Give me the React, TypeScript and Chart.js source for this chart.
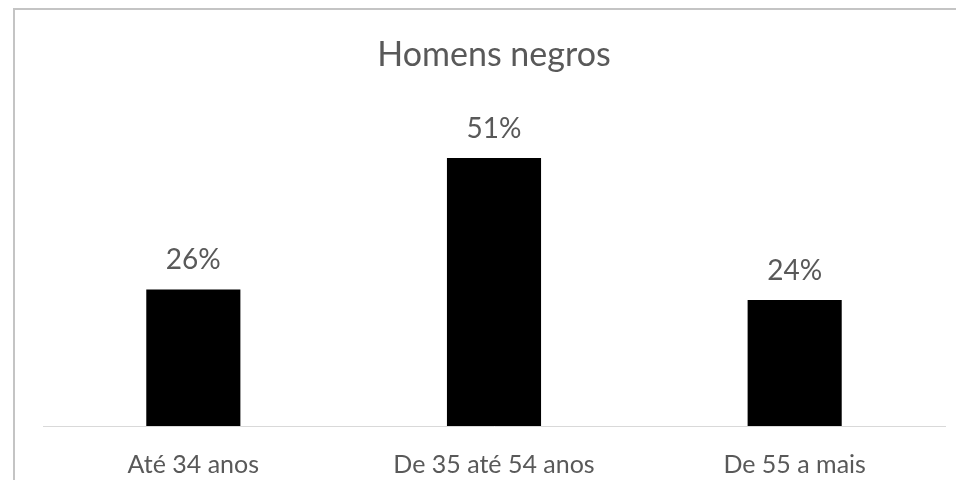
import React, { useEffect, useRef } from "react";
import { Chart, registerables } from "chart.js";

Chart.register(...registerables);

const categories: string[] = ["Até 34 anos", "De 35 até 54 anos", "De 55 a mais"];
const values: number[] = [26, 51, 24];
const valueLabels: string[] = ["26%", "51%", "24%"];
const chartTitle = "Homens negros";

const textColor = "#595959";
const fontFamily = "Lato, 'Open Sans', sans-serif";

const dataLabelPlugin = {
  id: "dataLabels",
  afterDatasetsDraw(chart: any) {
    const ctx = chart.ctx;
    const meta = chart.getDatasetMeta(0);
    ctx.save();
    ctx.font = `28px ${fontFamily}`;
    ctx.fillStyle = textColor;
    ctx.textAlign = "center";
    ctx.textBaseline = "middle";
    meta.data.forEach((bar: any, i: number) => {
      ctx.fillText(valueLabels[i], bar.x, bar.y - 29);
    });
    ctx.restore();
  },
};

export default function App() {
  const canvasRef = useRef<HTMLCanvasElement | null>(null);

  useEffect(() => {
    if (!canvasRef.current) return;
    const chart = new Chart(canvasRef.current, {
      type: "bar",
      data: {
        labels: categories,
        datasets: [
          {
            data: values,
            backgroundColor: "#000000",
            borderWidth: 0,
            categoryPercentage: 1,
            barPercentage: 0.313,
          },
        ],
      },
      options: {
        animation: false,
        responsive: false,
        maintainAspectRatio: false,
        layout: { padding: { left: 28, right: 11, top: 0, bottom: 2 } },
        plugins: {
          legend: { display: false },
          tooltip: { enabled: false },
          title: {
            display: true,
            text: chartTitle,
            color: textColor,
            font: { family: fontFamily, size: 34, weight: "normal" },
            padding: { top: 25, bottom: 35 },
          },
        },
        scales: {
          x: {
            grid: { display: true, drawOnChartArea: false, drawTicks: false },
            border: { display: true, color: "#d9d9d9", width: 1 },
            ticks: {
              color: textColor,
              font: { family: fontFamily, size: 25 },
              padding: 24,
            },
            afterFit: (scale: any) => {
              scale.height = 52;
            },
          },
          y: {
            display: false,
            min: 0,
            max: 60,
          },
        },
      },
      plugins: [dataLabelPlugin],
    });
    return () => chart.destroy();
  }, []);

  return (
    <div
      style={{
        marginLeft: 5,
        borderTop: "2px solid #c4c4c4",
        borderLeft: "2px solid #c4c4c4",
        width: 941,
        height: 470,
        background: "#ffffff",
        overflow: "hidden",
      }}
    >
      <canvas ref={canvasRef} width={941} height={470} style={{ display: "block", width: 941, height: 470 }} />
    </div>
  );
}
